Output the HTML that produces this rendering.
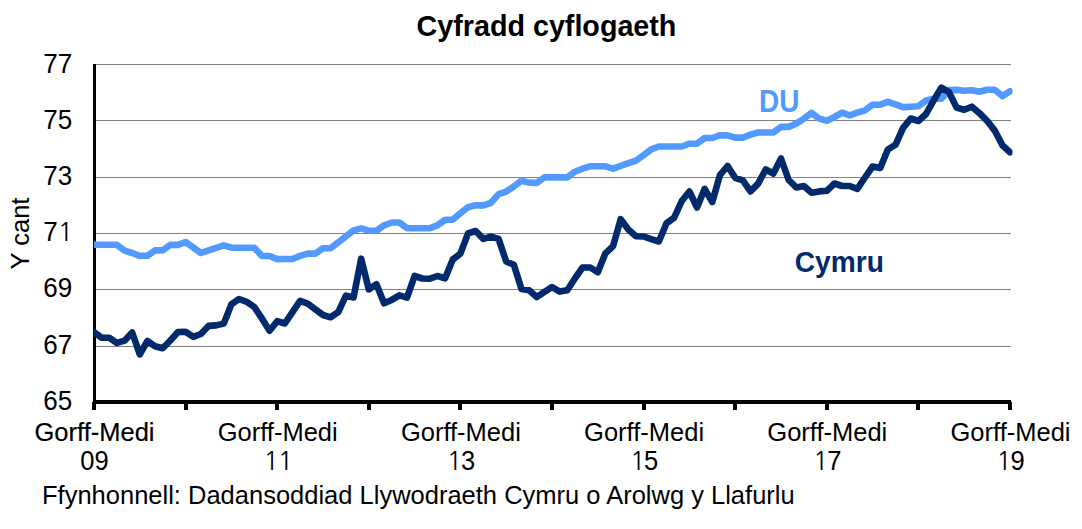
<!DOCTYPE html>
<html><head><meta charset="utf-8"><title>Cyfradd cyflogaeth</title>
<style>
html,body{margin:0;padding:0;background:#fff;}
body{width:1082px;height:529px;overflow:hidden;}
svg{display:block;}
</style></head><body>
<svg width="1082" height="529" viewBox="0 0 1082 529">
<defs><clipPath id="pa"><rect x="94" y="0" width="918.5" height="529"/></clipPath></defs>
<rect x="96" y="64" width="915" height="1" fill="#808080"/>
<rect x="96" y="120" width="915" height="1" fill="#808080"/>
<rect x="96" y="177" width="915" height="1" fill="#808080"/>
<rect x="96" y="233" width="915" height="1" fill="#808080"/>
<rect x="96" y="289" width="915" height="1" fill="#808080"/>
<rect x="96" y="346" width="915" height="1" fill="#808080"/>
<rect x="93" y="64" width="3" height="340" fill="#000"/>
<rect x="93" y="400" width="918" height="4" fill="#000"/>
<rect x="92" y="402" width="4" height="8" fill="#000"/>
<rect x="184" y="402" width="4" height="8" fill="#000"/>
<rect x="275" y="402" width="4" height="8" fill="#000"/>
<rect x="367" y="402" width="4" height="8" fill="#000"/>
<rect x="458" y="402" width="4" height="8" fill="#000"/>
<rect x="550" y="402" width="4" height="8" fill="#000"/>
<rect x="642" y="402" width="4" height="8" fill="#000"/>
<rect x="733" y="402" width="4" height="8" fill="#000"/>
<rect x="825" y="402" width="4" height="8" fill="#000"/>
<rect x="916" y="402" width="4" height="8" fill="#000"/>
<rect x="1008" y="402" width="4" height="8" fill="#000"/>
<g clip-path="url(#pa)">
<polyline points="94.00,244.8 101.63,244.8 109.27,244.8 116.90,244.8 124.53,250.7 132.17,253.0 139.80,255.8 147.43,255.8 155.07,250.4 162.70,250.4 170.33,244.9 177.97,244.9 185.60,242.0 193.23,247.5 200.87,253.0 208.50,250.4 216.13,247.9 223.77,245.3 231.40,247.7 239.03,247.7 246.67,247.7 254.30,247.7 261.93,256.0 269.57,256.0 277.20,259.1 284.83,259.0 292.47,259.0 300.10,255.9 307.73,253.6 315.37,253.6 323.00,248.2 330.63,248.2 338.27,242.3 345.90,236.3 353.53,230.4 361.17,228.4 368.80,230.7 376.43,230.7 384.07,225.3 391.70,222.5 399.33,222.5 406.97,228.2 414.60,228.2 422.23,228.2 429.87,228.2 437.50,225.3 445.13,219.8 452.77,219.6 460.40,213.3 468.03,207.2 475.67,205.3 483.30,205.4 490.93,202.9 498.57,194.1 506.20,191.6 513.83,186.4 521.47,180.7 529.10,182.6 536.73,182.9 544.37,177.4 552.00,177.4 559.63,177.4 567.27,177.4 574.90,171.7 582.53,168.7 590.17,166.3 597.80,166.3 605.43,166.3 613.07,168.7 620.70,165.8 628.33,163.2 635.97,160.6 643.60,155.2 651.23,149.3 658.87,146.5 666.50,146.5 674.13,146.5 681.77,146.5 689.40,143.7 697.03,143.7 704.67,138.0 712.30,138.0 719.93,135.2 727.57,135.4 735.20,137.6 742.83,137.6 750.47,134.7 758.10,132.5 765.73,132.5 773.37,132.5 781.00,126.9 788.63,126.9 796.27,123.6 803.90,118.7 811.53,112.8 819.17,118.6 826.80,120.7 834.43,117.0 842.07,112.7 849.70,115.3 857.33,112.7 864.97,110.3 872.60,104.7 880.23,104.7 887.87,101.8 895.50,104.3 903.13,107.1 910.77,106.7 918.40,106.2 926.03,100.5 933.67,98.7 941.30,98.7 948.93,90.1 956.57,89.9 964.20,90.8 971.83,90.2 979.47,91.8 987.10,89.8 994.73,89.8 1002.37,96.1 1010.00,91.3" fill="none" stroke="#529AFF" stroke-width="6.6" stroke-linejoin="round" stroke-linecap="round"/>
<polyline points="94.00,332.2 101.63,337.7 109.27,337.7 116.90,342.9 124.53,340.7 132.17,332.5 139.80,354.3 147.43,341.0 155.07,346.2 162.70,348.3 170.33,340.5 177.97,332.0 185.60,331.9 193.23,336.8 200.87,334.0 208.50,325.9 216.13,325.4 223.77,323.6 231.40,304.2 239.03,299.0 246.67,301.8 254.30,307.0 261.93,318.4 269.57,330.7 277.20,321.2 284.83,323.5 292.47,312.1 300.10,300.8 307.73,303.6 315.37,309.3 323.00,315.0 330.63,317.3 338.27,312.1 345.90,295.6 353.53,297.5 361.17,258.7 368.80,289.4 376.43,284.3 384.07,303.3 391.70,299.9 399.33,295.3 406.97,297.6 414.60,276.0 422.23,278.5 429.87,278.7 437.50,276.0 445.13,278.3 452.77,259.5 460.40,253.7 468.03,233.3 475.67,231.0 483.30,238.9 490.93,236.6 498.57,238.9 506.20,261.5 513.83,264.7 521.47,289.0 529.10,290.3 536.73,297.0 544.37,292.0 552.00,287.0 559.63,291.6 567.27,290.2 574.90,278.5 582.53,267.5 590.17,267.5 597.80,272.2 605.43,253.3 613.07,246.1 620.70,219.2 628.33,229.5 635.97,236.3 643.60,236.5 651.23,239.2 658.87,241.5 666.50,223.2 674.13,217.7 681.77,201.0 689.40,191.5 697.03,207.5 704.67,188.8 712.30,202.0 719.93,175.1 727.57,166.0 735.20,177.8 742.83,180.3 750.47,191.4 758.10,183.6 765.73,169.5 773.37,173.5 781.00,158.5 788.63,180.0 796.27,187.4 803.90,186.0 811.53,192.7 819.17,191.4 826.80,190.8 834.43,183.5 842.07,186.0 849.70,186.0 857.33,188.8 864.97,177.5 872.60,166.5 880.23,168.0 887.87,149.5 895.50,144.8 903.13,127.9 910.77,118.5 918.40,121.0 926.03,114.0 933.67,100.4 941.30,87.6 948.93,92.1 956.57,107.5 964.20,109.8 971.83,106.7 979.47,113.2 987.10,120.8 994.73,130.6 1002.37,145.3 1010.00,152.3" fill="none" stroke="#002A6C" stroke-width="6.6" stroke-linejoin="round" stroke-linecap="round"/>
</g>
<text transform="translate(43.28,73.00) scale(1.02,1.055)" font-family="'Liberation Sans', Arial, sans-serif" font-size="25.5">7</text>
<text transform="translate(57.74,73.00) scale(1.02,1.055)" font-family="'Liberation Sans', Arial, sans-serif" font-size="25.5">7</text>
<text transform="translate(43.28,129.00) scale(1.02,1.055)" font-family="'Liberation Sans', Arial, sans-serif" font-size="25.5">7</text>
<text transform="translate(57.74,129.00) scale(1.02,1.055)" font-family="'Liberation Sans', Arial, sans-serif" font-size="25.5">5</text>
<text transform="translate(43.28,185.00) scale(1.02,1.055)" font-family="'Liberation Sans', Arial, sans-serif" font-size="25.5">7</text>
<text transform="translate(57.74,185.00) scale(1.02,1.055)" font-family="'Liberation Sans', Arial, sans-serif" font-size="25.5">3</text>
<text transform="translate(43.28,241.00) scale(1.02,1.055)" font-family="'Liberation Sans', Arial, sans-serif" font-size="25.5">7</text>
<text x="57.74" y="241.00" font-family="NanumGothic, 'Liberation Sans', Arial, sans-serif" font-size="25.50">1</text>
<text transform="translate(43.28,297.30) scale(1.02,1.055)" font-family="'Liberation Sans', Arial, sans-serif" font-size="25.5">6</text>
<text transform="translate(57.74,297.30) scale(1.02,1.055)" font-family="'Liberation Sans', Arial, sans-serif" font-size="25.5">9</text>
<text transform="translate(43.28,354.00) scale(1.02,1.055)" font-family="'Liberation Sans', Arial, sans-serif" font-size="25.5">6</text>
<text transform="translate(57.74,354.00) scale(1.02,1.055)" font-family="'Liberation Sans', Arial, sans-serif" font-size="25.5">7</text>
<text transform="translate(43.28,410.00) scale(1.02,1.055)" font-family="'Liberation Sans', Arial, sans-serif" font-size="25.5">6</text>
<text transform="translate(57.74,410.00) scale(1.02,1.055)" font-family="'Liberation Sans', Arial, sans-serif" font-size="25.5">5</text>
<text x="94.5" y="440.5" text-anchor="middle" font-family="'Liberation Sans', Arial, sans-serif" font-size="25.5" stroke="#000" stroke-width="0.2">Gorff-Medi</text>
<text transform="translate(80.32,469.60) scale(1.0,1.05)" font-family="'Liberation Sans', Arial, sans-serif" font-size="25.5">0</text>
<text transform="translate(94.50,469.60) scale(1.0,1.05)" font-family="'Liberation Sans', Arial, sans-serif" font-size="25.5">9</text>
<text x="277.7" y="440.5" text-anchor="middle" font-family="'Liberation Sans', Arial, sans-serif" font-size="25.5">Gorff-Medi</text>
<text x="263.52" y="469.60" font-family="NanumGothic, 'Liberation Sans', Arial, sans-serif" font-size="25.50">1</text>
<text x="277.70" y="469.60" font-family="NanumGothic, 'Liberation Sans', Arial, sans-serif" font-size="25.50">1</text>
<text x="460.9" y="440.5" text-anchor="middle" font-family="'Liberation Sans', Arial, sans-serif" font-size="25.5">Gorff-Medi</text>
<text x="446.72" y="469.60" font-family="NanumGothic, 'Liberation Sans', Arial, sans-serif" font-size="25.50">1</text>
<text transform="translate(460.90,469.60) scale(1.0,1.05)" font-family="'Liberation Sans', Arial, sans-serif" font-size="25.5">3</text>
<text x="644.1" y="440.5" text-anchor="middle" font-family="'Liberation Sans', Arial, sans-serif" font-size="25.5">Gorff-Medi</text>
<text x="629.92" y="469.60" font-family="NanumGothic, 'Liberation Sans', Arial, sans-serif" font-size="25.50">1</text>
<text transform="translate(644.10,469.60) scale(1.0,1.05)" font-family="'Liberation Sans', Arial, sans-serif" font-size="25.5">5</text>
<text x="827.3" y="440.5" text-anchor="middle" font-family="'Liberation Sans', Arial, sans-serif" font-size="25.5">Gorff-Medi</text>
<text x="813.12" y="469.60" font-family="NanumGothic, 'Liberation Sans', Arial, sans-serif" font-size="25.50">1</text>
<text transform="translate(827.30,469.60) scale(1.0,1.05)" font-family="'Liberation Sans', Arial, sans-serif" font-size="25.5">7</text>
<text x="1010.5" y="440.5" text-anchor="middle" font-family="'Liberation Sans', Arial, sans-serif" font-size="25.5">Gorff-Medi</text>
<text x="996.32" y="469.60" font-family="NanumGothic, 'Liberation Sans', Arial, sans-serif" font-size="25.50">1</text>
<text transform="translate(1010.50,469.60) scale(1.0,1.05)" font-family="'Liberation Sans', Arial, sans-serif" font-size="25.5">9</text>
<text transform="translate(28.7,233.5) rotate(-90)" text-anchor="middle" font-family="'Liberation Sans', Arial, sans-serif" font-size="25.5">Y cant</text>
<text transform="translate(546.5,36) scale(1.007,1.055)" text-anchor="middle" font-family="'Liberation Sans', Arial, sans-serif" font-size="28.5" font-weight="bold">Cyfradd cyflogaeth</text>
<text transform="translate(759,111.8) scale(1,1.09)" font-family="'Liberation Sans', Arial, sans-serif" font-size="28" font-weight="bold" fill="#529AFF">DU</text>
<text transform="translate(794.8,272) scale(1.004,1.03)" font-family="'Liberation Sans', Arial, sans-serif" font-size="28" font-weight="bold" fill="#002A6C">Cymru</text>
<text x="42" y="504" font-family="'Liberation Sans', Arial, sans-serif" font-size="25.5">Ffynhonnell: Dadansoddiad Llywodraeth Cymru o Arolwg y Llafurlu</text>
</svg>
</body></html>
